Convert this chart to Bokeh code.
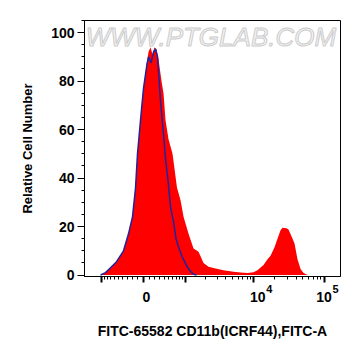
import numpy as np
from bokeh.plotting import figure
from bokeh.models import Range1d, FixedTicker, SingleIntervalTicker, Label, LinearAxis
from bokeh.embed import file_html
from bokeh.resources import INLINE

# Display coordinate: biexponential-like axis, u = K * asinh(v / W)
W = 540.0
K = 0.4211
def disp(v):
    return K * np.arcsinh(np.asarray(v, dtype=float) / W)

# Sample (red, filled) histogram, x in display units
red_x = [-0.593, -0.524, -0.455, -0.372, -0.276, -0.207, -0.152, -0.110, -0.083, -0.041,
         0.000, 0.048, 0.069, 0.097, 0.124, 0.152, 0.179, 0.207, 0.248, 0.276,
         0.303, 0.345, 0.400, 0.462, 0.510, 0.552, 0.621, 0.690, 0.759, 0.828,
         0.897, 0.979, 1.103, 1.241, 1.338, 1.434, 1.517, 1.572, 1.655, 1.710,
         1.752, 1.807, 1.848, 1.890, 1.917, 1.972, 2.000, 2.041, 2.083, 2.124,
         2.166, 2.207, 2.262]
red_y = [0, 1, 3, 5.5, 10, 17, 24, 36, 50, 64,
         77, 88, 92, 94, 91, 94, 93, 89, 80, 75,
         64, 56, 50, 36, 31, 24, 17, 11, 9.6, 5,
         3.4, 2.8, 2.0, 1.4, 1.1, 0.8, 1.2, 2.0, 4.1, 6.5,
         8.0, 11.5, 15, 18.5, 19.5, 19.3, 18.8, 16, 13, 6.5,
         2.5, 0.8, 0]

# Control (blue line) histogram
blue_x = [-0.593, -0.524, -0.455, -0.372, -0.276, -0.207, -0.152, -0.110, -0.083, -0.041,
          0.000, 0.048, 0.069, 0.103, 0.138, 0.166, 0.193, 0.234, 0.276, 0.303,
          0.345, 0.372, 0.414, 0.448, 0.483, 0.534, 0.603, 0.648, 0.690, 0.731]
blue_y = [0, 1, 3, 5.5, 10, 17, 24, 36, 50, 64,
          77, 87, 90, 87.5, 92, 93.3, 90, 72, 58, 48,
          37, 28, 22, 15, 11.6, 7.5, 3.4, 1.5, 0.3, 0]

# Axis ticks (raw fluorescence values)
major_vals = [-1000, 0, 1000, 10000, 100000]
minor_vals = ([-100 * k for k in range(1, 10)] + [100 * k for k in range(1, 10)]
              + [1000 * k for k in range(2, 10)] + [10000 * k for k in range(2, 10)])
# tick labels: base text and raised exponent
label_vals = [0, 10000, 100000]
label_base = ["0", "10", "10"]
exp_vals = [10000, 100000]
exp_text = ["4", "5"]

FONT = "Liberation Sans"
X0, X1 = -0.814, 2.717
FRAME_W = 256
PX = FRAME_W / (X1 - X0)   # pixels per display unit

p = figure(width=361, height=356, output_backend="svg", toolbar_location=None,
           x_range=Range1d(X0, X1), y_range=Range1d(-0.6, 105),
           min_border_left=84, min_border_right=21, min_border_top=20, min_border_bottom=80)
p.background_fill_color = "white"
p.border_fill_color = "white"
p.outline_line_color = "black"
p.outline_line_width = 1
p.grid.visible = False

# watermark
wm = Label(x=0.93, y=98, text="WWW.PTGLAB.COM", text_align="center", text_baseline="middle",
           text_font=FONT, text_font_size="26px", text_font_style="italic",
           text_color="#f4f4f4", text_outline_color="#cccccc")
p.add_layout(wm)

p.varea(x=red_x, y1=0, y2=red_y, fill_color="#ff0000")
p.line(x=blue_x, y=blue_y, line_color="#22229c", line_width=1.5)

# main x axis: ticks only
xa = p.below[0]
mx = disp(major_vals).tolist()
xa.ticker = FixedTicker(ticks=mx, minor_ticks=disp(minor_vals).tolist())
xa.major_label_overrides = {m: "" for m in mx}
xa.major_label_text_font_size = "1px"
xa.major_label_standoff = 0
xa.axis_line_color = "black"
xa.major_tick_line_color = "black"
xa.minor_tick_line_color = "black"
xa.major_tick_in = 0
xa.minor_tick_in = 0
xa.major_tick_out = 6
xa.minor_tick_out = 3
xa.major_tick_line_width = 2

def label_axis(positions, texts, size, standoff):
    ax = LinearAxis(ticker=FixedTicker(ticks=positions, minor_ticks=[]))
    ax.major_label_overrides = {pos: t for pos, t in zip(positions, texts)}
    ax.axis_line_color = None
    ax.major_tick_line_color = None
    ax.minor_tick_line_color = None
    ax.major_tick_in = 0
    ax.major_tick_out = 0
    ax.minor_tick_in = 0
    ax.minor_tick_out = 0
    ax.major_label_text_font = FONT
    ax.major_label_text_font_style = "bold"
    ax.major_label_text_font_size = size
    ax.major_label_text_color = "black"
    ax.major_label_standoff = standoff
    return ax

base_dx = [3, 4, 0]
exp_dx = [15.5, 11.5]
base_pos = [float(disp(v)) + d / PX for v, d in zip(label_vals, base_dx)]
exp_pos = [float(disp(v)) + d / PX for v, d in zip(exp_vals, exp_dx)]

base_ax = label_axis(base_pos, label_base, "14px", 9)
exp_ax = label_axis(exp_pos, exp_text, "11px", -20)
exp_ax.axis_label = "FITC-65582 CD11b(ICRF44),FITC-A"
exp_ax.axis_label_text_font = FONT
exp_ax.axis_label_text_font_style = "bold"
exp_ax.axis_label_text_font_size = "14px"
exp_ax.axis_label_text_color = "black"
exp_ax.axis_label_standoff = 27
p.add_layout(base_ax, "below")
p.add_layout(exp_ax, "below")

ya = p.yaxis[0]
ya.ticker = SingleIntervalTicker(interval=20, num_minor_ticks=4)
ya.axis_line_color = "black"
ya.major_tick_line_color = "black"
ya.minor_tick_line_color = "black"
ya.major_tick_in = 0
ya.minor_tick_in = 0
ya.major_tick_out = 7
ya.minor_tick_out = 3
ya.major_label_text_font = FONT
ya.major_label_text_font_style = "bold"
ya.major_label_text_font_size = "14px"
ya.major_label_text_color = "black"
ya.major_label_standoff = 3
ya.axis_label = "Relative Cell Number"
ya.axis_label_text_font = FONT
ya.axis_label_text_font_style = "bold"
ya.axis_label_text_font_size = "13px"
ya.axis_label_text_color = "black"
ya.axis_label_standoff = 13

open("out.html", "w").write(file_html(p, INLINE))
